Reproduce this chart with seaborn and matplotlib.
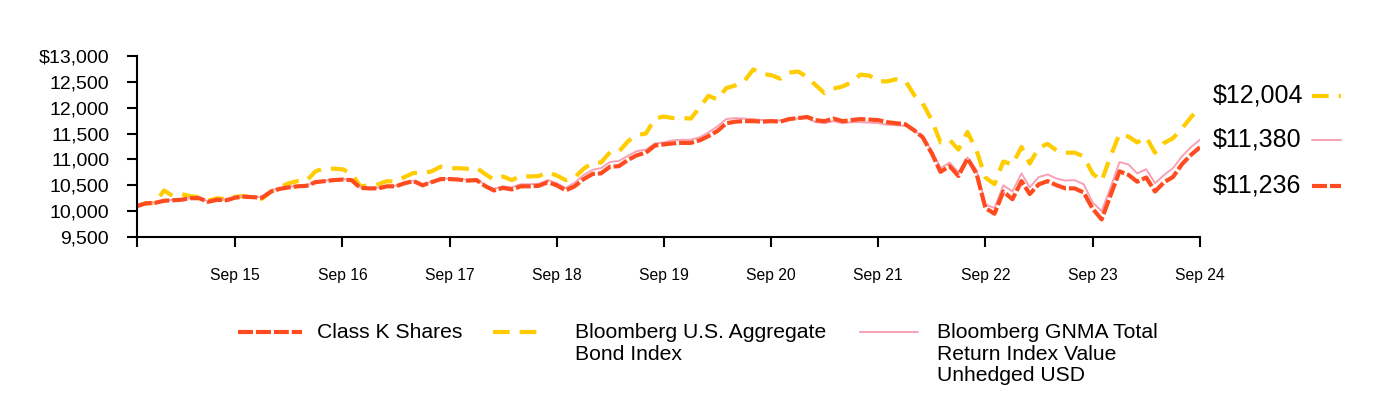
import numpy as np
import pandas as pd
import matplotlib
matplotlib.use("Agg")
import matplotlib.pyplot as plt
import matplotlib.dates as mdates
from matplotlib.ticker import FuncFormatter
from matplotlib.lines import Line2D
import seaborn as sns

# monthly values, Oct 2014 .. Sep 2024
months = pd.date_range("2014-10-31", periods=120, freq="ME")

class_k = [
    10100, 10150, 10160, 10200, 10210, 10220, 10250, 10250, 10180, 10220, 10210, 10260,
    10280, 10270, 10260, 10380, 10430, 10460, 10480, 10490, 10560, 10580, 10600, 10610,
    10600, 10450, 10440, 10440, 10480, 10480, 10540, 10580, 10500, 10560, 10620, 10620,
    10610, 10590, 10600, 10480, 10400, 10450, 10420, 10480, 10480, 10490, 10560, 10500,
    10400, 10480, 10620, 10720, 10730, 10860, 10870, 10990, 11080, 11130, 11270, 11290,
    11310, 11320, 11320, 11370, 11450, 11550, 11700, 11730, 11740, 11740, 11730, 11740,
    11730, 11780, 11800, 11820, 11760, 11740, 11790, 11740, 11760, 11780, 11770, 11760,
    11720, 11700, 11680, 11560, 11430, 11120, 10760, 10870, 10680, 11020, 10720, 10060,
    9950, 10380, 10230, 10580, 10330, 10520, 10580, 10500, 10440, 10440, 10360, 10050,
    9840, 10300, 10770, 10700, 10570, 10650, 10380, 10560, 10660, 10910, 11090, 11236,
]

agg_bond = [
    10100, 10150, 10160, 10400, 10300, 10330, 10290, 10270, 10200, 10250, 10230, 10280,
    10290, 10260, 10240, 10380, 10460, 10540, 10580, 10590, 10770, 10830, 10820, 10810,
    10730, 10480, 10500, 10520, 10580, 10570, 10660, 10740, 10730, 10770, 10860, 10830,
    10830, 10820, 10840, 10710, 10610, 10670, 10600, 10680, 10670, 10680, 10750, 10690,
    10600, 10650, 10820, 10940, 10940, 11140, 11150, 11350, 11470, 11500, 11790, 11830,
    11800, 11800, 11790, 12010, 12230, 12160, 12380, 12430, 12510, 12740, 12650, 12630,
    12560, 12680, 12700, 12590, 12440, 12280, 12370, 12410, 12490, 12640, 12620, 12510,
    12510, 12550, 12520, 12240, 12090, 11760, 11330, 11380, 11190, 11530, 11170, 10650,
    10520, 10960, 10900, 11240, 10920, 11230, 11300, 11170, 11130, 11130, 11060, 10730,
    10580, 11060, 11490, 11440, 11330, 11430, 11130, 11320, 11410, 11600, 11820, 12004,
]

gnma = [
    10100, 10150, 10170, 10200, 10220, 10230, 10250, 10260, 10190, 10230, 10220, 10270,
    10290, 10280, 10270, 10400, 10450, 10470, 10490, 10500, 10570, 10590, 10610, 10620,
    10610, 10460, 10450, 10450, 10490, 10490, 10550, 10590, 10510, 10570, 10630, 10630,
    10620, 10610, 10620, 10500, 10430, 10480, 10460, 10520, 10520, 10530, 10600, 10540,
    10450, 10550, 10700, 10800, 10830, 10950, 10970, 11070, 11160, 11190, 11310, 11330,
    11370, 11380, 11380, 11430, 11520, 11640, 11780, 11800, 11790, 11780, 11760, 11760,
    11750, 11780, 11790, 11800, 11720, 11700, 11740, 11700, 11720, 11720, 11710, 11700,
    11670, 11660, 11650, 11550, 11450, 11170, 10830, 10940, 10750, 11040, 10790, 10130,
    10060, 10500, 10380, 10730, 10460, 10660, 10710, 10630, 10590, 10600, 10520, 10170,
    10000, 10450, 10950, 10900, 10730, 10810, 10540, 10700, 10830, 11060, 11240, 11380,
]

labels = ["Class K Shares", "Bloomberg U.S. Aggregate\nBond Index",
          "Bloomberg GNMA Total\nReturn Index Value\nUnhedged USD"]
end_labels = ["$12,004", "$11,380", "$11,236"]

RED = "#ff4b1f"
YEL = "#ffcc00"
PINK = "#f7a1b4"
RED_DASH = [3.6, 0.7]
YEL_DASH = [4, 2.4]

df = pd.DataFrame({"date": months, "k": class_k, "agg": agg_bond, "gnma": gnma})

sns.set_style("white")
plt.rcParams["font.family"] = ["Liberation Sans", "DejaVu Sans"]
plt.rcParams["text.color"] = "black"

fig = plt.figure(figsize=(13.84, 4.0), dpi=100)
ax = fig.add_axes([0.099, 0.4075, 0.768, 0.4525])

sns.lineplot(data=df, x="date", y="agg", ax=ax, color=YEL, lw=3, legend=False)
ax.lines[-1].set_dashes(YEL_DASH)
sns.lineplot(data=df, x="date", y="gnma", ax=ax, color=PINK, lw=1.4, legend=False)
sns.lineplot(data=df, x="date", y="k", ax=ax, color=RED, lw=3, legend=False)
ax.lines[-1].set_dashes(RED_DASH)

ax.set_xlim(months[0], months[-1])
ax.set_ylim(9500, 13000)
ax.set_yticks(np.arange(9500, 13001, 500))
ax.yaxis.set_major_formatter(FuncFormatter(
    lambda v, p: f"${v:,.0f}" if v == 13000 else f"{v:,.0f}"))
ax.set_xticks([d for d in months if d.month == 9])
ax.set_xticks([months[0]], minor=True)
ax.xaxis.set_major_formatter(mdates.DateFormatter("Sep %y"))
ax.set_xlabel("")
ax.set_ylabel("")

for s in ["top", "right"]:
    ax.spines[s].set_visible(False)
for s in ["left", "bottom"]:
    ax.spines[s].set_color("black")
    ax.spines[s].set_linewidth(1.5)
ax.tick_params(axis="y", which="major", direction="out", length=7, width=1.5,
               labelsize=14, pad=13, left=True, colors="black")
ax.tick_params(axis="x", which="both", direction="out", length=7, width=1.5,
               labelsize=11.3, pad=15, bottom=True, colors="black")

# end value labels on the right
ys = [0.76, 0.65, 0.535]
styles = [dict(color=YEL, lw=3, dashes=YEL_DASH),
          dict(color=PINK, lw=1.4),
          dict(color=RED, lw=3, dashes=RED_DASH)]
for txt, y, st in zip(end_labels, ys, styles):
    fig.text(0.876, y, txt, fontsize=18, va="center", ha="left")
    fig.add_artist(Line2D([0.948, 0.969], [y, y], transform=fig.transFigure, **st))

# legend below, entries top aligned
W, H = 1384, 400
hx = [(238, 302), (493, 545), (860, 918)]
tx = [317, 575, 937]
leg_styles = [styles[2], styles[0], styles[1]]
for (x0, x1), t, lab, st in zip(hx, tx, labels, leg_styles):
    fig.add_artist(Line2D([x0 / W, x1 / W], [1 - 332 / H] * 2,
                          transform=fig.transFigure, **st))
    fig.text(t / W, 1 - 323 / H, lab, fontsize=15.2, va="top", ha="left",
             linespacing=1.17)

fig.savefig("out.png", dpi=100)
